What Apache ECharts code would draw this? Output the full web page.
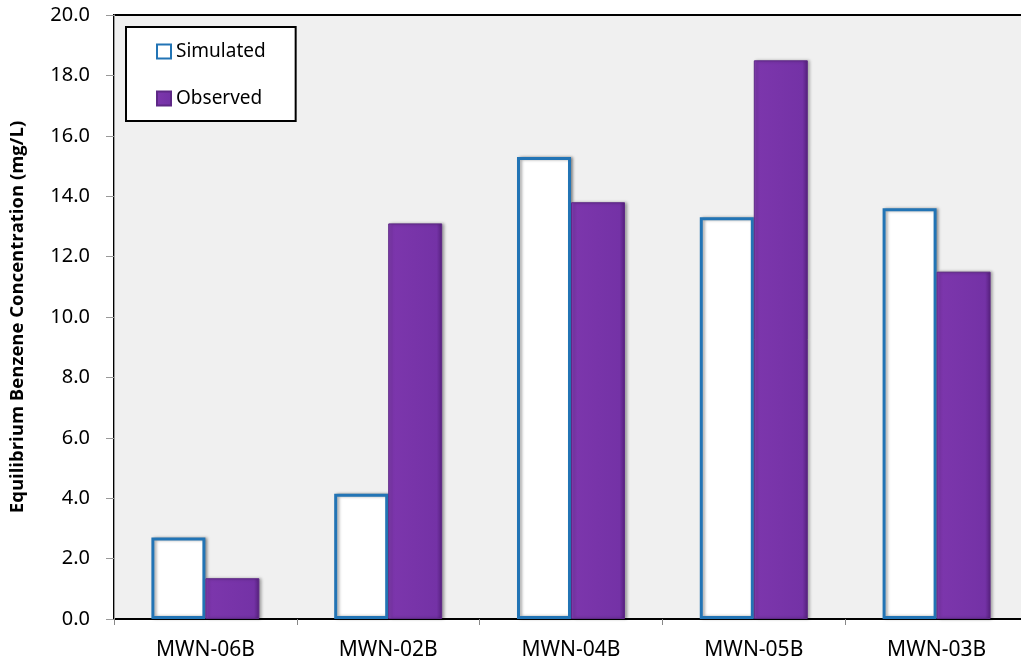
<!DOCTYPE html>
<html><head><meta charset="utf-8">
<script src="https://cdn.jsdelivr.net/npm/echarts@6/dist/echarts.min.js"></script>
<style>html,body{margin:0;padding:0;background:#fff}#c{width:1021px;height:665px}</style>
</head><body><div id="c"></div>
<script>
var categories = ['MWN-06B','MWN-02B','MWN-04B','MWN-05B','MWN-03B'];
var simulated = [2.7, 4.15, 15.3, 13.3, 13.6];
var observed = [1.35, 13.1, 13.8, 18.5, 11.5];
var yTitle = 'Equilibrium Benzene Concentration (mg/L)';

var chart = echarts.init(document.getElementById('c'));
var fontTick = 'Noto Sans';
chart.setOption({
  animation: false,
  grid: {left: 114, right: -7, top: 15, bottom: 46, containLabel: false, outerBoundsMode: 'none',
         show: true, backgroundColor: '#f0f0f0', borderColor: '#000', borderWidth: 2},
  legend: {
    orient: 'vertical', left: 126, top: 27,
    backgroundColor: '#fff', borderColor: '#000', borderWidth: 2,
    padding: [15, 30, 13, 30], itemGap: 28, itemWidth: 14, itemHeight: 14,
    textStyle: {fontFamily: fontTick, fontSize: 19, color: '#000'},
    data: [{name: 'Simulated', icon: 'rect'}, {name: 'Observed', icon: 'rect'}]
  },
  xAxis: {
    type: 'category', data: categories,
    axisLine: {lineStyle: {color: '#000', width: 1}},
    axisTick: {show: true, length: 6, lineStyle: {color: '#888'}},
    axisLabel: {fontFamily: fontTick, fontSize: 21, color: '#000', margin: 21}
  },
  yAxis: {
    type: 'value', min: 0, max: 20, interval: 2,
    name: yTitle, nameLocation: 'middle', nameGap: 87, nameRotate: 90,
    nameTextStyle: {fontFamily: 'Open Sans', fontWeight: 'bold', fontSize: 18.5, color: '#000'},
    axisLine: {show: true, lineStyle: {color: '#999'}},
    axisTick: {show: true, length: 8, lineStyle: {color: '#999'}},
    splitLine: {show: false},
    axisLabel: {fontFamily: fontTick, fontSize: 20, color: '#000', margin: 24, formatter: function(v){return v.toFixed(1);}}
  },
  series: [
    {name: 'Simulated', type: 'bar', data: simulated, barWidth: 54, barGap: '0%',
     itemStyle: {color: '#ffffff', borderColor: '#2274b5', borderWidth: 3,
       shadowColor: 'rgba(0,0,0,0.35)', shadowBlur: 3, shadowOffsetX: 2, shadowOffsetY: 0}},
    {name: 'Observed', type: 'bar', data: observed, barWidth: 54,
     itemStyle: {
       color: new echarts.graphic.LinearGradient(0,0,1,0,[
         {offset:0,color:'#8a42bb'},{offset:0.08,color:'#7c36ac'},{offset:0.9,color:'#7432a6'},{offset:1,color:'#55207c'}]),
       borderColor: '#5e2886', borderWidth: 1,
       shadowColor: 'rgba(0,0,0,0.35)', shadowBlur: 3, shadowOffsetX: 2, shadowOffsetY: 0}}
  ]
});
</script></body></html>
